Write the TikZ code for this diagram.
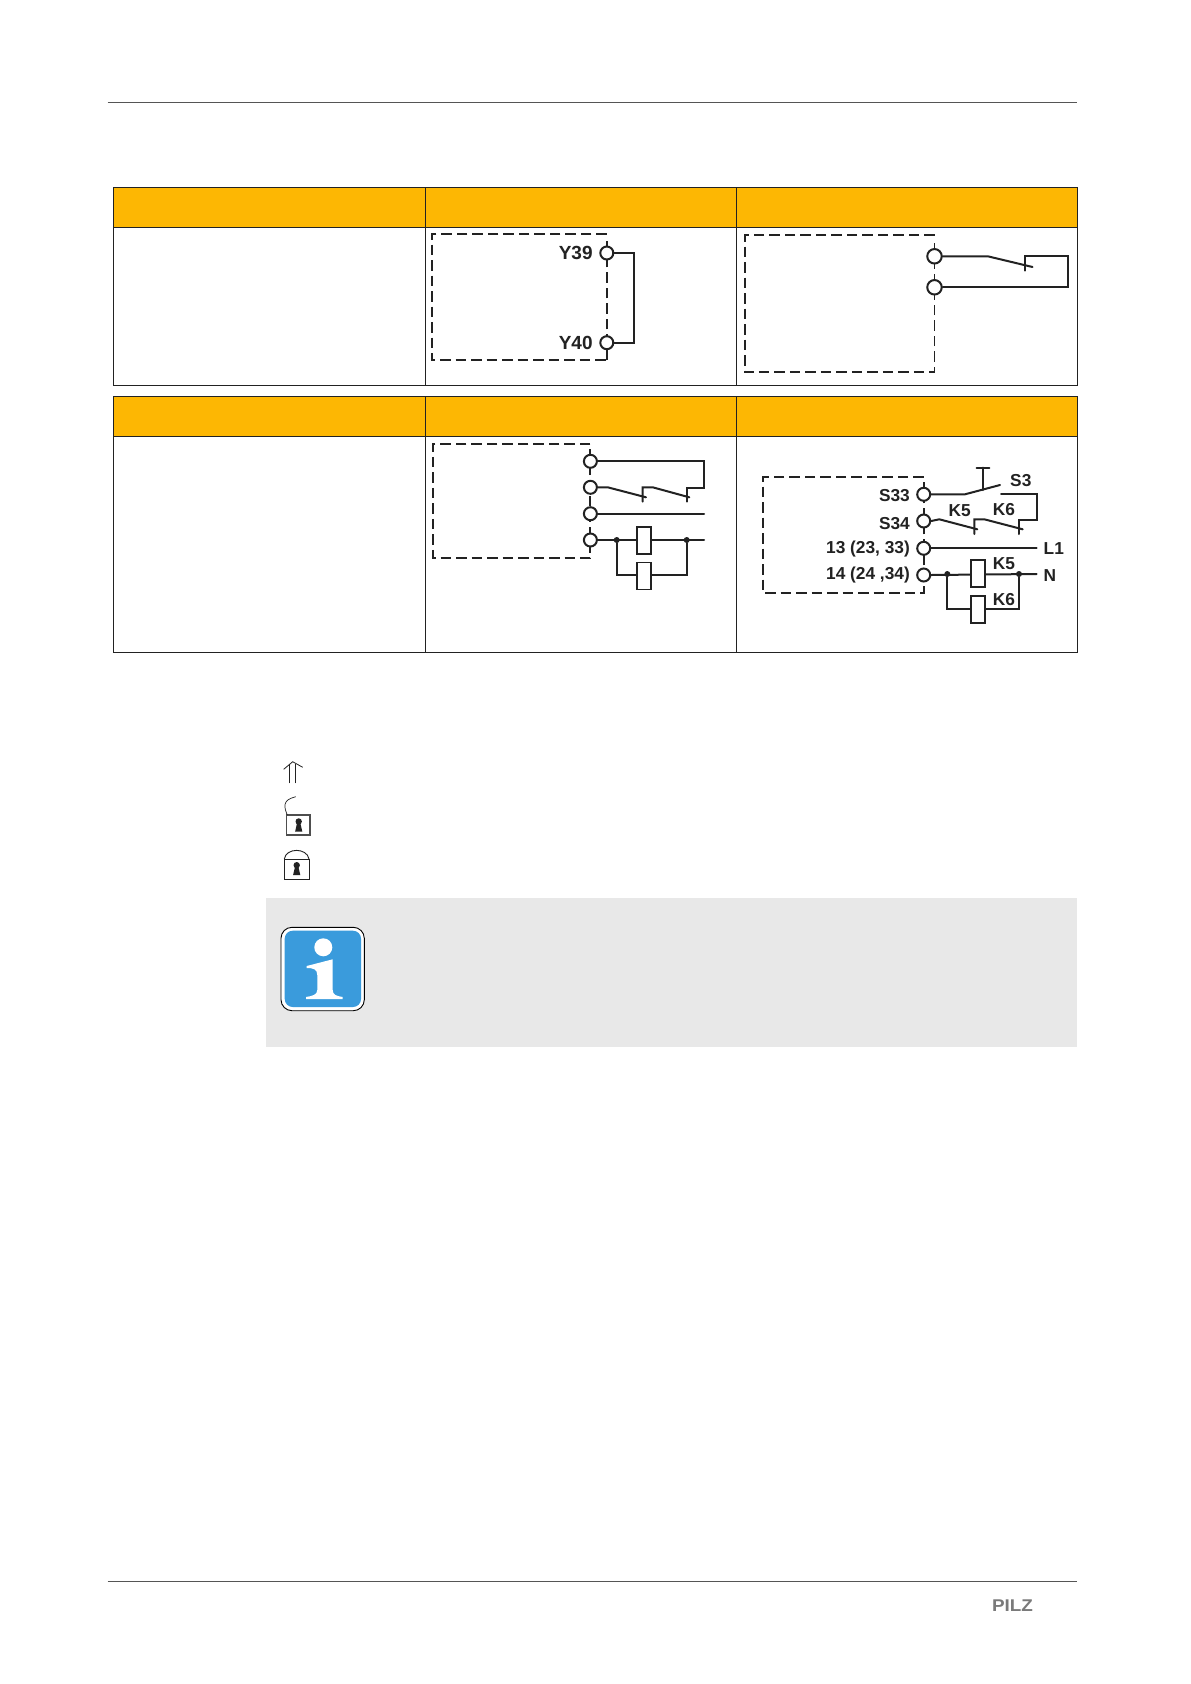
\documentclass[tikz,border=0pt]{standalone}
\usepackage{fontspec}
\setmainfont{Liberation Sans}
\definecolor{hdr}{HTML}{FDB703}
\definecolor{ink}{HTML}{222222}
\definecolor{note}{HTML}{E8E8E8}
\definecolor{infoblue}{HTML}{3A9BDC}
\definecolor{rule}{HTML}{555555}
\definecolor{logo}{HTML}{7A7A7A}
\tikzset{
  grid/.style={draw=ink,line width=0.9pt},
  headcell/.style={fill=hdr,draw=ink,line width=0.9pt},
  dashbox/.style={draw=ink,line width=1.9pt,dash pattern=on 10.5pt off 5pt},
  wire/.style={draw=ink,line width=2pt,line cap=round,line join=miter},
  term/.style={circle,draw=ink,fill=white,line width=2pt,minimum size=13pt,inner sep=0pt},
  bigcirc/.style={term,minimum size=14.5pt},
  relay/.style={rectangle,draw=ink,fill=white,line width=1.8pt,minimum width=14.5pt,minimum height=27pt,inner sep=0pt},
  junction/.style={circle,fill=ink,minimum size=6pt,inner sep=0pt},
  lab/.style={inner sep=0pt,text=ink,font=\fontsize{17.3}{20}\selectfont\bfseries},
  bigterm/.style={lab,font=\fontsize{19}{22}\selectfont\bfseries},
  key/.style={fill=ink,draw=none},
  lockline/.style={draw=ink,line width=0.9pt}
}
\newcommand{\keyhole}[3]{% x, y-top, y-bottom
  \fill[key] (#1,#2+3.2) circle (3.2pt);
  \fill[key] (#1-1.5,#2+4) -- (#1+1.5,#2+4) -- (#1+3.6,#3) -- (#1-3.6,#3) -- cycle;
}
\begin{document}
\begin{tikzpicture}[x=1pt,y=-1pt]
\useasboundingbox (0,0) rectangle (1191,1684);
\fill[white] (0,0) rectangle (1191,1684);
% page rules
\coordinate (ruleAl) at (107.5,102.5); \coordinate (ruleAr) at (1077,102.5);
\coordinate (ruleBl) at (107.5,1581);  \coordinate (ruleBr) at (1077,1581);
\draw[rule,line width=0.9pt] (ruleAl) -- (ruleAr);
\draw[rule,line width=0.9pt] (ruleBl) -- (ruleBr);
\node[inner sep=0pt,text=logo,xscale=1.11,font=\fontsize{17}{20}\selectfont\bfseries] (pilz) at (1012.5,1606) {PILZ};
% table 1
\path[headcell] (113.5,187.3) rectangle (425,227);
\path[headcell] (425,187.3) rectangle (736.5,227);
\path[headcell] (736.5,187.3) rectangle (1077,227);
\path[grid] (113.5,227) rectangle (425,385.3);
\path[grid] (425,227) rectangle (736.5,385.3);
\path[grid] (736.5,227) rectangle (1077,385.3);
% table 2
\path[headcell] (113.5,396.3) rectangle (425,436.3);
\path[headcell] (425,396.3) rectangle (736.5,436.3);
\path[headcell] (736.5,396.3) rectangle (1077,436.3);
\path[grid] (113.5,436.3) rectangle (425,652.3);
\path[grid] (425,436.3) rectangle (736.5,652.3);
\path[grid] (736.5,436.3) rectangle (1077,652.3);

% diagram A: Y39 / Y40
\draw[dashbox,line width=2.3pt] (606.8,233.7) -- (431.7,233.7) -- (431.7,360.3) -- (606.8,360.3);
\draw[dashbox] (606.8,360.3) -- (606.8,240);
\node[term] (y39) at (606.8,253) {};
\node[term] (y40) at (606.8,342.7) {};
\node[bigterm,anchor=east] (y39l) at (592.8,252.5) {Y39};
\node[bigterm,anchor=east] (y40l) at (592.8,343) {Y40};
\draw[wire] (y39.east) -| (634,253) |- (y40.east);

% diagram B: single contact
\draw[dashbox] (934.5,235) -- (744.7,235) -- (744.7,372) -- (934.5,372) -- (934.5,241);
\node[bigcirc] (ba) at (934.5,256.3) {};
\node[bigcirc] (bb) at (934.5,287.3) {};
\coordinate (bpiv) at (987.8,256.3);
\coordinate (bend) at (1032.5,267);
\coordinate (btop) at (1024.7,256);
\coordinate (btick) at (1024.7,270.7);
\coordinate (bcorner) at (1068,256);
\draw[wire] (ba.east) -- (bpiv) -- (bend);
\draw[wire] (btick) -- (btop) -- (bcorner) |- (bb.east);

% diagram C
\draw[dashbox] (590.4,443.7) -- (433,443.7) -- (433,557.7) -- (590.4,557.7) -- (590.4,449);
\node[term] (c1) at (590.4,461.3) {};
\node[term] (c2) at (590.4,487.3) {};
\node[term] (c3) at (590.4,513.7) {};
\node[term] (c4) at (590.4,540) {};
\coordinate (cr1) at (704,461.3);
\coordinate (cr2) at (704,488);
\coordinate (ct2) at (686.7,501.7);
\coordinate (ca2) at (652.7,487.3);
\coordinate (ce2) at (689.3,497.3);
\coordinate (ct1) at (642.7,501.7);
\coordinate (ca1) at (607.7,487.3);
\coordinate (ce1) at (646,497.3);
\draw[wire] (c1.east) -- (cr1) -- (cr2) -| (ct2);
\draw[wire] (ce2) -- (ca2) -| (ct1);
\draw[wire] (c2.east) -- (ca1) -- (ce1);
\coordinate (cr3) at (704,513.7);
\draw[wire] (c3.east) -- (cr3);
\coordinate (cr4) at (704,540);
\draw[wire] (c4.east) -- (cr4);
\node[junction] (cj1) at (616.7,540) {};
\node[junction] (cj2) at (686.7,540) {};
\coordinate (cl1) at (616.7,574.7);
\coordinate (cl2) at (686.7,574.7);
\draw[wire] (cj1) -- (cl1) -- (cl2) -- (cj2);
\node[relay] (crel1) at (644,540.5) {};
\node[relay] (crel2) at (644,576) {};

% diagram D
\draw[dashbox] (923.7,477) -- (762.7,477) -- (762.7,592.7) -- (923.7,592.7) -- (923.7,482);
\node[term] (s33) at (923.7,494.3) {};
\node[term] (s34) at (923.7,521) {};
\node[term] (t13) at (923.7,548.3) {};
\node[term] (t14) at (923.7,575) {};
\node[lab,anchor=east] (s33l) at (910,496) {S33};
\node[lab,anchor=east] (s34l) at (910,523.3) {S34};
\node[lab,anchor=east] (t13l) at (910,548.7) {13 (23, 33)};
\node[lab,anchor=east] (t14l) at (910,575.5) {14 (24 ,34)};
\node[lab,anchor=west] (s3l) at (1010,480.7) {S3};
\node[lab,anchor=west] (k5l) at (948.3,510.5) {K5};
\node[lab,anchor=west] (k6l) at (992.7,509.5) {K6};
\node[lab,anchor=west] (l1l) at (1043.5,548.3) {L1};
\node[lab,anchor=west] (nl) at (1043.5,575.2) {N};
\node[lab,anchor=west] (k5b) at (992.7,564) {K5};
\node[lab,anchor=west] (k6b) at (992.7,600) {K6};
% S3 button
\coordinate (dp1) at (965,494.3);
\coordinate (dp2) at (1000,485);
\coordinate (dbtnb) at (983.3,490);
\coordinate (dbtnt) at (983.3,467.5);
\coordinate (dtl) at (976.7,467.5);
\coordinate (dtr) at (989.3,467.5);
\draw[wire] (s33.east) -- (dp1) -- (dp2);
\draw[wire] (dbtnb) -- (dbtnt);
\draw[wire] (dtl) -- (dtr);
% return path
\coordinate (dr1) at (1001,493.7);
\coordinate (dr2) at (1036.7,493.7);
\coordinate (dr3) at (1036.7,520);
\coordinate (dt2) at (1019.3,534);
\coordinate (dk6a) at (984.3,519.3);
\coordinate (dk6e) at (1022.7,529.3);
\coordinate (dt1) at (974.3,534);
\coordinate (dk5a) at (939.3,519.3);
\coordinate (dk5e) at (977.3,529.3);
\draw[wire] (dr1) -- (dr2) -- (dr3) -| (dt2);
\draw[wire] (dk6e) -- (dk6a) -| (dt1);
\draw[wire] (s34.east) -- (dk5a) -- (dk5e);
\coordinate (dl1) at (1036.7,548.3);
\draw[wire] (t13.east) -- (dl1);
\coordinate (dn) at (1036.7,574);
\draw[wire] (t14.east) -- (dn);
\node[junction] (dj1) at (947.3,574) {};
\node[junction] (dj2) at (1019,574) {};
\coordinate (db1) at (947.3,609);
\coordinate (db2) at (1019,609);
\draw[wire] (dj1) -- (db1) -- (db2) -- (dj2);
\node[relay] (drel1) at (978,573.5) {};
\node[relay] (drel2) at (978,609.3) {};

% symbols
\draw[line width=0.8pt,draw=ink] (289.3,783.3) -- (289.3,764) (295.3,783.3) -- (295.3,764);
\draw[line width=0.8pt,draw=ink] (283.7,769.3) -- (292.7,761.7) -- (302.7,767.3);
% open lock
\draw[draw=ink!80,line width=1.2pt] (286.7,815) rectangle (310,835);
\draw[lockline,line width=0.7pt] (287.3,815) .. controls (284,807) and (282,800) .. (295.7,796.7);
\keyhole{298.7}{818.3}{831.7}
% closed lock
\draw[lockline] (284.3,859) rectangle (309,879);
\draw[lockline] (284.3,859) .. controls (286,847.5) and (307,847.5) .. (309,859);
\keyhole{296.7}{862}{875}

% note box
\fill[note] (266,898.3) rectangle (1077,1046.7);
\draw[fill=white,draw=black,line width=0.9pt,rounded corners=11pt] (281,927.3) rectangle (364.3,1010.7);
\fill[infoblue,rounded corners=8pt] (284.7,930.7) rectangle (361,1007);
\fill[white] (323.3,947.3) circle (9pt);
\fill[white] (306.7,966) -- (306.7,968) .. controls (313,968) and (317.3,969) .. (317.3,975)
  -- (317.3,990) .. controls (317.3,995) and (312,996) .. (306,997) -- (306,999) -- (342.7,999) -- (342.7,997)
  .. controls (336.7,996) and (332.7,995) .. (332.7,990) -- (332.7,959.3) -- cycle;
\end{tikzpicture}
\end{document}
